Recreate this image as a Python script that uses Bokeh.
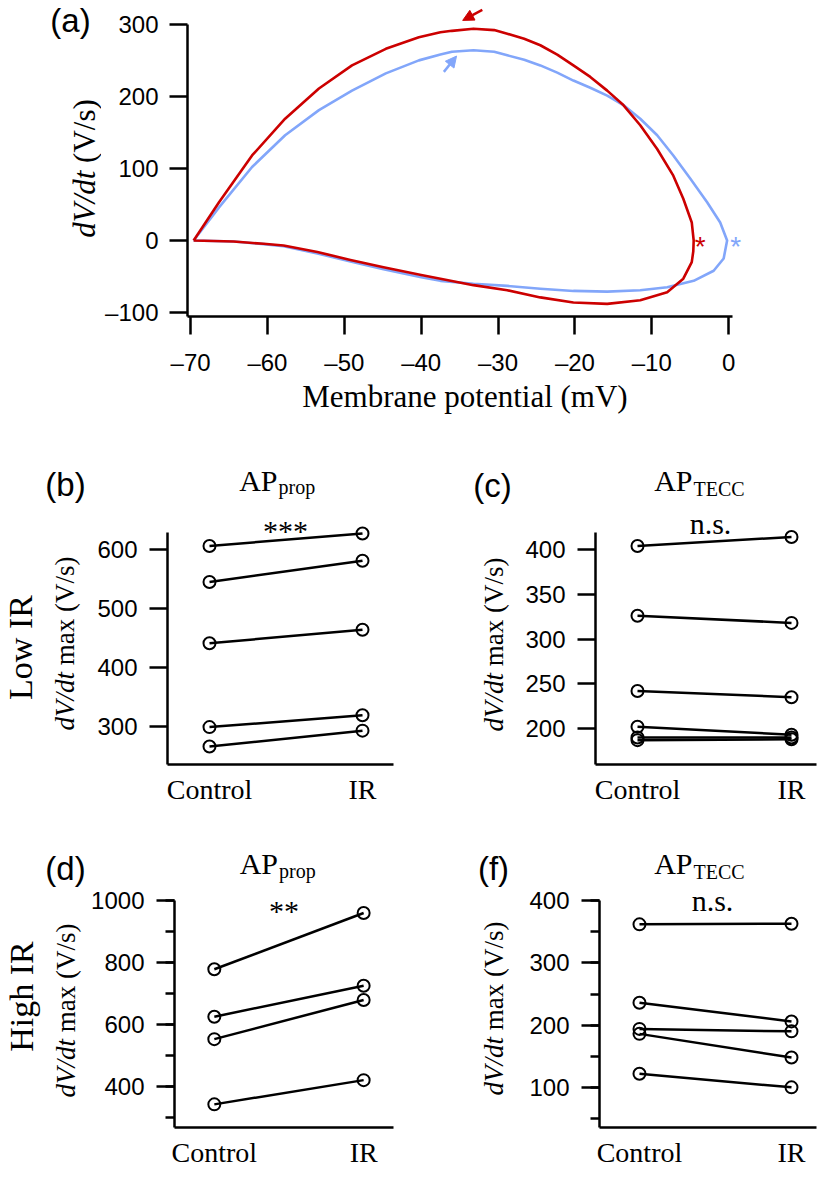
import numpy as np
from bokeh.plotting import figure
from bokeh.layouts import column, row
from bokeh.models import (Label, Arrow, NormalHead, FixedTicker,
                          SingleIntervalTicker, Range1d)
from bokeh.embed import file_html
from bokeh.resources import INLINE

# ---------------- data ----------------
# Panel (a): phase plots (membrane potential mV, dV/dt V/s)
red_v = [-69.6, -66.3, -62.0, -57.7, -53.3, -49.0, -44.6, -40.3, -37.5, -36.0,
         -33.2, -30.5, -28.8, -26.6, -24.5, -22.3, -20.2, -18.0, -15.8, -13.7,
         -11.5, -9.3, -7.2, -5.9, -4.8, -4.55, -4.6, -4.8, -5.9, -8.0,
         -11.5, -15.8, -20.2, -24.5, -28.8, -33.2, -37.5, -40.0, -44.9, -49.2,
         -53.5, -57.9, -60.5, -64.4, -69.6]
red_dvdt = [0, 53, 118, 169, 211, 243, 266, 282, 289, 291,
            294, 292, 287, 280, 271, 258, 243, 227, 208, 188,
            160, 127, 90, 58, 25, 0, -15, -30, -53, -72,
            -83, -88, -86, -79, -69, -62, -53, -48, -37, -27,
            -16, -7, -4.6, -1.5, 0]
blue_v = [-69.6, -66.3, -62.0, -57.7, -53.3, -49.0, -44.6, -40.3, -37.5, -36.0,
          -33.2, -30.5, -28.8, -26.6, -24.5, -22.3, -20.2, -18.0, -15.8, -13.7,
          -11.5, -9.3, -7.2, -5.0, -2.8, -1.1, -0.2, -0.65, -1.95, -4.55,
          -8.0, -11.5, -15.8, -20.2, -24.5, -28.8, -33.2, -37.5, -40.0, -44.9,
          -49.2, -53.5, -57.9, -60.5, -64.4, -69.6]
blue_dvdt = [0, 46, 102, 146, 181, 208, 232, 250, 258, 262,
             264, 262, 257, 251, 243, 233, 222, 212, 201, 188,
             169, 146, 118, 86, 53, 25, 0, -25, -42, -56,
             -65, -69, -71, -70, -67, -63, -60, -56, -51, -40,
             -29, -18, -8, -5, -1.5, 0]

conditions = ["Control", "IR"]
# (b) Low IR, AP_prop
b_control = [606, 545, 441, 299, 266]
b_ir = [627, 581, 464, 319, 293]
# (c) Low IR, AP_TECC
c_control = [404, 326, 242, 202, 190, 187]
c_ir = [414, 318, 235, 193, 190, 188]
# (d) High IR, AP_prop
d_control = [778, 625, 553, 343]
d_ir = [959, 725, 679, 421]
# (f) High IR, AP_TECC
f_control = [362, 236, 194, 186, 122]
f_ir = [363, 206, 190, 148, 100]

a_xticks = [-70, -60, -50, -40, -30, -20, -10, 0]
a_yticks = [-100, 0, 100, 200, 300]
b_yticks = [300, 400, 500, 600]
c_yticks = [200, 250, 300, 350, 400]

RED = "#cc0000"
BLUE = "#82a6fa"
SANS = "Liberation Sans"
SERIF = "Liberation Serif"
MID = 0.34  # em-box centre above the alphabetic baseline


def to_data(g, X, Y):
    x = g["x0"] + (X - g["fl"]) / (g["fr"] - g["fl"]) * (g["x1"] - g["x0"])
    y = g["y0"] + (g["fb"] - Y) / (g["fb"] - g["ft"]) * (g["y1"] - g["y0"])
    return x, y


def add_label(p, g, X, Y, text, font=SERIF, size=28, style="normal",
              align="center", angle=0.0, color="black", base=False):
    """(X, Y) in page pixels; Y is the em-box centre, or the baseline if base."""
    if base:
        Y = Y - MID * size
    x, y = to_data(g, X, Y)
    p.add_layout(Label(x=x, y=y, text=text, text_font=font,
                       text_font_size=f"{size}px", text_font_style=style,
                       text_align=align, text_baseline="middle", angle=angle,
                       text_color=color))


def text_fig(left, top, width, height, ft, fb):
    """Blank canvas for texts outside the axes; its frame matches the row's frame."""
    g = dict(fl=left, fr=left + width, ft=ft, fb=fb,
             x0=0, x1=width, y0=0, y1=fb - ft)
    p = figure(width=width, height=height, x_range=Range1d(0, width),
               y_range=Range1d(0, fb - ft), output_backend="svg",
               toolbar_location=None, x_axis_location=None, y_axis_location=None,
               min_border_left=0, min_border_right=0, min_border_top=ft - top,
               min_border_bottom=top + height - fb)
    p.xgrid.visible = False
    p.ygrid.visible = False
    p.outline_line_color = None
    p.background_fill_color = "white"
    p.border_fill_color = "white"
    return p, g


def make_fig(g, left, top, width, height):
    p = figure(width=width, height=height,
               x_range=Range1d(g["x0"], g["x1"]), y_range=Range1d(g["y0"], g["y1"]),
               output_backend="svg", toolbar_location=None,
               min_border_left=g["fl"] - left,
               min_border_right=left + width - g["fr"],
               min_border_top=g["ft"] - top,
               min_border_bottom=top + height - g["fb"])
    p.xgrid.visible = False
    p.ygrid.visible = False
    p.outline_line_color = None
    p.background_fill_color = "white"
    p.border_fill_color = "white"
    for ax in p.axis:
        ax.axis_line_width = 2.5
        ax.axis_line_color = "black"
        ax.major_tick_line_width = 2.5
        ax.minor_tick_line_width = 2.5
        ax.major_tick_line_color = "black"
        ax.minor_tick_line_color = "black"
        ax.major_tick_in = 0
        ax.minor_tick_in = 0
        ax.major_tick_out = 18
        ax.minor_tick_out = 0
        ax.major_label_text_font = SANS
        ax.major_label_text_font_size = "24px"
        ax.major_label_text_color = "black"
        ax.major_label_standoff = 12
    return p


IT_W = 2.167   # "dV/dt" width in em (Times italic metrics)
SP_W = 0.25


def y_title(p, g, X, Yc, size=27, rest="max (V/s)", rest_w=4.027):
    L = (IT_W + SP_W + rest_w) * size
    y_it = Yc + L / 2 - IT_W * size / 2
    y_rest = Yc - L / 2 + rest_w * size / 2
    add_label(p, g, X, y_it, "dV/dt", size=size, style="italic", angle=np.pi / 2)
    add_label(p, g, X, y_rest, rest, size=size, angle=np.pi / 2)


def sub_title(p, g, Xj, Yb, main, sub, dy=4):
    add_label(p, g, Xj, Yb, main, size=30, align="right", base=True)
    add_label(p, g, Xj + 1, Yb + dy, sub, size=20, align="left", base=True)


def dash_minus(ticks):
    return {t: (f"\u2013{abs(t)}" if t < 0 else str(t)) for t in ticks}


# ---------------- row 1: panel (a) ----------------
px_mv = 545 / 70.9
px_v = 308 / 427.5
ga = dict(fl=187, fr=742, ft=0, fb=316, x0=-70.4, x1=-70.4 + 555 / px_mv,
          y0=-105.5, y1=322 + 8 / px_v)
ta, gta = text_fig(0, 0, 101, 440, ga["ft"], ga["fb"])
add_label(ta, gta, 70, 20, "(a)", font=SANS, size=33)
y_title(ta, gta, 83.5, 168, size=31, rest="(V/s)", rest_w=2.055)

pa = make_fig(ga, 101, 0, 716, 440)
pa.xaxis.ticker = FixedTicker(ticks=a_xticks, minor_ticks=[])
pa.xaxis.major_label_overrides = dash_minus(a_xticks)
pa.xaxis.bounds = (ga["x0"], 0.5)
pa.xaxis.major_label_standoff = 14
pa.yaxis.ticker = FixedTicker(ticks=a_yticks, minor_ticks=[])
pa.yaxis.major_label_overrides = dash_minus(a_yticks)
pa.yaxis.bounds = (ga["y0"], 300)
pa.yaxis.major_label_standoff = 11
pa.xaxis.axis_label = "Membrane potential (mV)"
pa.xaxis.axis_label_text_font = SERIF
pa.xaxis.axis_label_text_font_style = "normal"
pa.xaxis.axis_label_text_font_size = "31px"
pa.xaxis.axis_label_text_color = "black"
pa.xaxis.axis_label_standoff = 0

pa.line(blue_v, blue_dvdt, line_color=BLUE, line_width=2.6, line_join="round")
pa.line(red_v, red_dvdt, line_color=RED, line_width=2.6, line_join="round")

# arrows placed relative to each curve's peak
ir = int(np.argmax(red_dvdt))
ib = int(np.argmax(blue_dvdt))
pa.add_layout(Arrow(end=NormalHead(size=11, fill_color=RED, line_color=RED, line_width=1),
                    x_start=red_v[ir] + 1.15, y_start=red_dvdt[ir] + 26,
                    x_end=red_v[ir] - 1.4, y_end=red_dvdt[ir] + 11.5,
                    line_color=RED, line_width=2.5))
pa.add_layout(Arrow(end=NormalHead(size=11, fill_color=BLUE, line_color=BLUE, line_width=1),
                    x_start=blue_v[ib] - 3.85, y_start=blue_dvdt[ib] - 30,
                    x_end=blue_v[ib] - 2.2, y_end=blue_dvdt[ib] - 8,
                    line_color=BLUE, line_width=2.5))
# asterisks at the maximum depolarisation of each trace
for vv, col, dx in ((red_v, RED, 6.5), (blue_v, BLUE, 8.5)):
    pa.add_layout(Label(x=max(vv) + dx / px_mv, y=-8, text="*", text_font=SANS,
                        text_font_size="28px", text_align="center",
                        text_baseline="middle", text_color=col))

# ---------------- paired panels ----------------
xs = list(range(len(conditions)))


def paired(p, ctrl, irr):
    x0 = [xs[0]] * len(ctrl)
    x1 = [xs[1]] * len(irr)
    p.segment(x0=x0, y0=ctrl, x1=x1, y1=irr, line_color="black", line_width=2.5)
    p.scatter(x0 + x1, list(ctrl) + list(irr), marker="circle", size=12,
              fill_color=None, line_color="black", line_width=2)
    p.xaxis.ticker = FixedTicker(ticks=xs, minor_ticks=[])
    p.xaxis.major_label_overrides = {x: c for x, c in zip(xs, conditions)}
    p.xaxis.major_tick_out = 0
    p.xaxis.major_label_text_font = SERIF
    p.xaxis.major_label_text_font_size = "28px"
    p.xaxis.major_label_standoff = 9


# row 2 (frames 455..764)
R2T, R2B = 455, 764
tb, gtb = text_fig(0, 440, 90, 370, R2T, R2B)
add_label(tb, gtb, 65, 484, "(b)", font=SANS, size=33)
y_title(tb, gtb, 64, 643)
add_label(tb, gtb, 19.5, 647, "Low IR", size=34, angle=np.pi / 2)

gb = dict(fl=167, fr=393, ft=R2T, fb=R2B, x0=-0.2745, x1=1.2026, y0=235.6,
          y1=628.8 + (532 - R2T) / 0.59)
pb = make_fig(gb, 90, 440, 330, 370)
paired(pb, b_control, b_ir)
pb.yaxis.ticker = FixedTicker(ticks=b_yticks, minor_ticks=[])
pb.yaxis.bounds = (gb["y0"], 628.8)
sub_title(pb, gb, 277, 490, "AP", "prop", dy=3)
add_label(pb, gb, 285, 540, "***", size=30, base=True)

tc, gtc = text_fig(420, 440, 95, 370, R2T, R2B)
add_label(tc, gtc, 492, 485, "(c)", font=SANS, size=33)
y_title(tc, gtc, 493, 644)

gc = dict(fl=595, fr=816, ft=R2T, fb=R2B, x0=-0.2727, x1=1.1623, y0=159.8,
          y1=419 + (532 - R2T) / 0.895)
pc = make_fig(gc, 515, 440, 302, 370)
paired(pc, c_control, c_ir)
pc.yaxis.ticker = FixedTicker(ticks=c_yticks, minor_ticks=[])
pc.yaxis.bounds = (gc["y0"], 419)
sub_title(pc, gc, 692, 490, "AP", "TECC", dy=5)
add_label(pc, gc, 710, 533, "n.s.", size=30, base=True)

# row 3 (frames 840..1127)
R3T, R3B = 840, 1127
td, gtd = text_fig(0, 810, 88, 370, R3T, R3B)
add_label(td, gtd, 65, 868, "(d)", font=SANS, size=33)
y_title(td, gtd, 65, 1010)
add_label(td, gtd, 21, 996, "High IR", size=34, angle=np.pi / 2)

gd = dict(fl=173, fr=393, ft=R3T, fb=R3B, x0=-0.2667, x1=1.2, y0=268.5,
          y1=1000 + (900 - R3T) / 0.3117)
pd = make_fig(gd, 88, 810, 332, 370)
paired(pd, d_control, d_ir)
pd.yaxis.ticker = SingleIntervalTicker(interval=200, num_minor_ticks=2)
pd.yaxis.minor_tick_out = 9
pd.yaxis.bounds = (gd["y0"], 1000)
sub_title(pd, gd, 277, 873, "AP", "prop", dy=4)
add_label(pd, gd, 283, 920, "**", size=30, base=True)

tf, gtf = text_fig(420, 810, 96, 370, R3T, R3B)
add_label(tf, gtf, 493, 868, "(f)", font=SANS, size=33)
y_title(tf, gtf, 493, 1008)

gf = dict(fl=599, fr=816, ft=R3T, fb=R3B, x0=-0.263, x1=1.1645, y0=35.5,
          y1=400 + (900 - R3T) / 0.62)
pf = make_fig(gf, 516, 810, 301, 370)
paired(pf, f_control, f_ir)
pf.yaxis.ticker = SingleIntervalTicker(interval=100, num_minor_ticks=2)
pf.yaxis.minor_tick_out = 9
pf.yaxis.bounds = (gf["y0"], 400)
sub_title(pf, gf, 692, 873, "AP", "TECC", dy=5)
add_label(pf, gf, 712, 910, "n.s.", size=30, base=True)

layout = column(row(ta, pa), row(tb, pb, tc, pc), row(td, pd, tf, pf))
open("out.html", "w").write(file_html(layout, INLINE))
